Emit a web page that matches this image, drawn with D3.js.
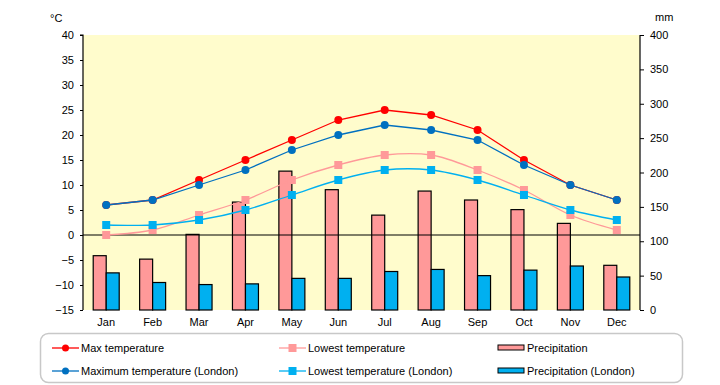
<!DOCTYPE html>
<html>
<head>
<meta charset="utf-8">
<script src="https://cdn.jsdelivr.net/npm/d3@7"></script>
<style>
  body { margin: 0; background: #fff; }
  text { font-family: "Liberation Sans", Arial, sans-serif; font-size: 11px; fill: #000; }
</style>
</head>
<body>
<div id="chart"></div>
<script>
// chart data
var months = ['Jan', 'Feb', 'Mar', 'Apr', 'May', 'Jun', 'Jul', 'Aug', 'Sep', 'Oct', 'Nov', 'Dec'];
var maxTemp = [6, 7, 11, 15, 19, 23, 25, 24, 21, 15, 10, 7];
var lowTemp = [0, 1, 4, 7, 11, 14, 16, 16, 13, 9, 4, 1];
var maxTempLondon = [6, 7, 10, 13, 17, 20, 22, 21, 19, 14, 10, 7];
var lowTempLondon = [2, 2, 3, 5, 8, 11, 13, 13, 11, 8, 5, 3];
var precip = [79, 74, 110, 157, 202, 175, 138, 173, 160, 146, 126, 65];
var precipLondon = [54, 40, 37, 38, 46, 46, 56, 59, 50, 58, 64, 48];
var tempTicks = [40, 35, 30, 25, 20, 15, 10, 5, 0, -5, -10, -15];
var mmTicks = [0, 50, 100, 150, 200, 250, 300, 350, 400];

// svg area
var svgWidth = 720;
var svgHeight = 385;
var margin = { top: 35, left: 83, right: 80, bottom: 75 };
var width = svgWidth - margin.left - margin.right;
var height = svgHeight - margin.top - margin.bottom;

var svg = d3.select('#chart')
  .append('svg')
  .attr('width', svgWidth)
  .attr('height', svgHeight);

var chartGroup = svg.append('g')
  .attr('transform', `translate(${margin.left}, ${margin.top})`);

// scales
var xScale = d3.scaleBand().domain(months).range([0, width]);
var yTemp = d3.scaleLinear().domain([-15, 40]).range([height, 0]);
var yMm = d3.scaleLinear().domain([0, 400]).range([height, 0]);

// background
chartGroup.append('rect')
  .attr('width', width)
  .attr('height', height)
  .attr('fill', '#FFFCCC');

// bars
var barW = 13;
function drawBars(values, color, offset) {
  chartGroup.selectAll(null)
    .data(values)
    .enter()
    .append('rect')
    .attr('x', (d, i) => xScale(months[i]) + xScale.bandwidth() / 2 + offset)
    .attr('y', d => yMm(d))
    .attr('width', barW)
    .attr('height', d => height - yMm(d))
    .attr('fill', color)
    .attr('stroke', '#000')
    .attr('stroke-width', 1.2);
}
drawBars(precip, '#FF9999', -barW);
drawBars(precipLondon, '#00B0F0', 0);

// zero line
chartGroup.append('line')
  .attr('x1', 0).attr('x2', width)
  .attr('y1', yTemp(0)).attr('y2', yTemp(0))
  .attr('stroke', '#000').attr('stroke-width', 1.2);

// lines
var cx = (d, i) => xScale(months[i]) + xScale.bandwidth() / 2;
function drawSeries(values, color, marker, curve) {
  var line = d3.line()
    .x(cx)
    .y(d => yTemp(d))
    .curve(curve);
  chartGroup.append('path')
    .datum(values)
    .attr('d', line)
    .attr('fill', 'none')
    .attr('stroke', color)
    .attr('stroke-width', 1.3);
  if (marker == 'circle') {
    chartGroup.selectAll(null)
      .data(values)
      .enter()
      .append('circle')
      .attr('cx', cx)
      .attr('cy', d => yTemp(d))
      .attr('r', 4)
      .attr('fill', color);
  } else {
    chartGroup.selectAll(null)
      .data(values)
      .enter()
      .append('rect')
      .attr('x', (d, i) => cx(d, i) - 4)
      .attr('y', d => yTemp(d) - 4)
      .attr('width', 8)
      .attr('height', 8)
      .attr('fill', color);
  }
}
drawSeries(lowTemp, '#FF9999', 'square', d3.curveCatmullRom.alpha(0.5));
drawSeries(lowTempLondon, '#00B0F0', 'square', d3.curveCatmullRom.alpha(0.5));
drawSeries(maxTemp, '#FF0000', 'circle', d3.curveLinear);
drawSeries(maxTempLondon, '#0070C0', 'circle', d3.curveLinear);

// axes
var leftAxis = d3.axisLeft(yTemp).tickValues(tempTicks).tickSize(3).tickPadding(6);
var rightAxis = d3.axisRight(yMm).tickValues(mmTicks).tickSize(4).tickPadding(6);

var yAxisL = chartGroup.append('g').call(leftAxis);
var yAxisR = chartGroup.append('g')
  .attr('transform', `translate(${width}, 0)`)
  .call(rightAxis);
[yAxisL, yAxisR].forEach(function(ax) {
  ax.select('.domain').attr('stroke', '#000').attr('stroke-width', 1.2);
  ax.selectAll('text').style('font-size', '11px').style('font-family', '"Liberation Sans", Arial, sans-serif');
});
yAxisL.select('.domain').attr('d', `M-3,0H0V${height}`);
yAxisR.select('.domain').attr('d', `M0,0V${height}`);

// month labels
chartGroup.selectAll(null)
  .data(months)
  .enter()
  .append('text')
  .attr('x', d => xScale(d) + xScale.bandwidth() / 2)
  .attr('y', height + 16)
  .attr('text-anchor', 'middle')
  .text(d => d);

// unit labels
svg.append('text').attr('x', 50).attr('y', 22).text('°C');
svg.append('text').attr('x', 655).attr('y', 21).text('mm');

// legend
var legend = svg.append('g');
legend.append('rect')
  .attr('x', 40.5).attr('y', 333.5)
  .attr('width', 642).attr('height', 49)
  .attr('rx', 8)
  .attr('fill', '#fff')
  .attr('stroke', '#C8C8C8')
  .attr('stroke-width', 1.5);

var legendItems = [
  { name: 'Max temperature', color: '#FF0000', type: 'circle', x: 52, y: 348 },
  { name: 'Lowest temperature', color: '#FF9999', type: 'square', x: 279, y: 348 },
  { name: 'Precipitation', color: '#FF9999', type: 'bar', x: 498, y: 348 },
  { name: 'Maximum temperature (London)', color: '#0070C0', type: 'circle', x: 52, y: 371 },
  { name: 'Lowest temperature (London)', color: '#00B0F0', type: 'square', x: 279, y: 371 },
  { name: 'Precipitation (London)', color: '#00B0F0', type: 'bar', x: 498, y: 371 }
];

legendItems.forEach(function(item) {
  var g = legend.append('g');
  if (item.type == 'bar') {
    g.append('rect')
      .attr('x', item.x).attr('y', item.y - 3)
      .attr('width', 26).attr('height', 5)
      .attr('fill', item.color)
      .attr('stroke', '#000').attr('stroke-width', 1);
  } else {
    g.append('line')
      .attr('x1', item.x).attr('x2', item.x + 27)
      .attr('y1', item.y).attr('y2', item.y)
      .attr('stroke', item.color).attr('stroke-width', 1.3);
    if (item.type == 'circle') {
      g.append('circle')
        .attr('cx', item.x + 13.5).attr('cy', item.y)
        .attr('r', 3.5).attr('fill', item.color);
    } else {
      g.append('rect')
        .attr('x', item.x + 9.5).attr('y', item.y - 4)
        .attr('width', 8).attr('height', 8)
        .attr('fill', item.color);
    }
  }
  g.append('text')
    .attr('x', item.x + 29)
    .attr('y', item.y + 4)
    .text(item.name);
});
</script>
</body>
</html>
